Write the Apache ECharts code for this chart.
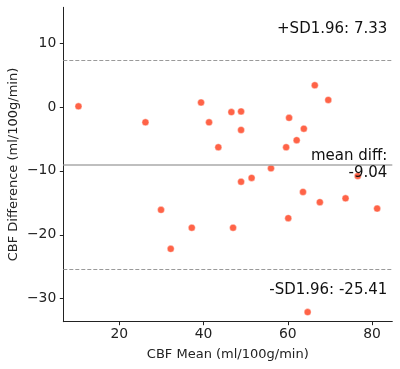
<!DOCTYPE html>
<html>
<head>
<meta charset="utf-8">
<script src="https://cdn.jsdelivr.net/npm/echarts@6/dist/echarts.min.js"></script>
<style>html,body{margin:0;padding:0;background:#fff;}#c{width:400px;height:369px;}</style>
</head>
<body>
<div id="c"></div>
<script>
const cbfMean = [10.3, 26.2, 39.4, 41.3, 43.5, 46.6, 48.9, 48.9, 66.4, 69.6, 60.3, 63.8, 62.1, 59.6, 56.0, 51.4, 48.9, 76.6, 29.9, 32.2, 37.2, 47.0, 63.6, 67.6, 73.7, 81.2, 60.1, 64.7];
const cbfDiff = [0.1, -2.4, 0.7, -2.4, -6.3, -0.8, -0.7, -3.6, 3.4, 1.1, -1.7, -3.4, -5.2, -6.3, -9.6, -11.1, -11.7, -10.8, -16.1, -22.2, -18.9, -18.9, -13.3, -14.9, -14.3, -15.9, -17.4, -32.1];
const meanDiff = -9.04;
const upperSD = 7.33;
const lowerSD = -25.41;
const xTicks = [20, 40, 60, 80];
const yTicks = [-30, -20, -10, 0, 10];

const FONT = 'DejaVu Sans';
const points = cbfMean.map((x, i) => [x, cbfDiff[i]]);
const fmt = v => String(v).replace('-', '\u2212');

const axisLineStyle = { show: true, onZero: false, lineStyle: { color: '#222', width: 1 } };
const tickStyle = { show: true, inside: false, length: 3.5, lineStyle: { color: '#222', width: 1 } };

const chart = echarts.init(document.getElementById('c'), null, { renderer: 'canvas' });
chart.setOption({
  animation: false,
  backgroundColor: '#fff',
  grid: { left: 63.3, right: 7.7, top: 7.3, bottom: 47.3, containLabel: false, outerBoundsMode: 'none' },
  xAxis: {
    type: 'value', min: 6.7, max: 84.8,
    name: 'CBF Mean (ml/100g/min)', nameLocation: 'middle', nameGap: 26, nameMoveOverlap: false,
    nameTextStyle: { fontFamily: FONT, fontSize: 13, color: '#222' },
    axisLine: axisLineStyle,
    splitLine: { show: false },
    axisTick: Object.assign({}, tickStyle, { customValues: xTicks }),
    axisLabel: { customValues: xTicks, formatter: fmt, fontFamily: FONT, fontSize: 13.9, color: '#222', margin: 6 }
  },
  yAxis: {
    type: 'value', min: -33.6, max: 15.6,
    name: 'CBF Difference (ml/100g/min)', nameLocation: 'middle', nameGap: 43, nameMoveOverlap: false,
    nameTextStyle: { fontFamily: FONT, fontSize: 13, color: '#222' },
    axisLine: axisLineStyle,
    splitLine: { show: false },
    axisTick: Object.assign({}, tickStyle, { customValues: yTicks }),
    axisLabel: { customValues: yTicks, formatter: fmt, fontFamily: FONT, fontSize: 13.9, color: '#222', margin: 7 }
  },
  series: [{
    type: 'scatter',
    data: points,
    symbolSize: 7,
    itemStyle: { color: '#ff6347', borderColor: '#fff', borderWidth: 0.4, opacity: 1 },
    markLine: {
      silent: true,
      symbol: ['none', 'none'],
      animation: false,
      data: [
        { yAxis: upperSD, lineStyle: { color: '#9a9a9a', type: [4, 2], width: 1 },
          label: { show: true, position: 'insideEndTop', distance: [5, 24], formatter: '+SD1.96: ' + upperSD.toFixed(2) } },
        { yAxis: meanDiff, lineStyle: { color: '#aaaaaa', type: 'solid', width: 1.6 },
          label: { show: true, position: 'insideEnd', distance: 5, align: 'right', lineHeight: 17.5, formatter: 'mean diff:\n' + meanDiff.toFixed(2) } },
        { yAxis: lowerSD, lineStyle: { color: '#9a9a9a', type: [4, 2], width: 1 },
          label: { show: true, position: 'insideEndBottom', distance: [5, 13], formatter: '-SD1.96: ' + lowerSD.toFixed(2) } }
      ],
      label: { fontFamily: FONT, fontSize: 15, color: '#111' }
    }
  }]
});
</script>
</body>
</html>
